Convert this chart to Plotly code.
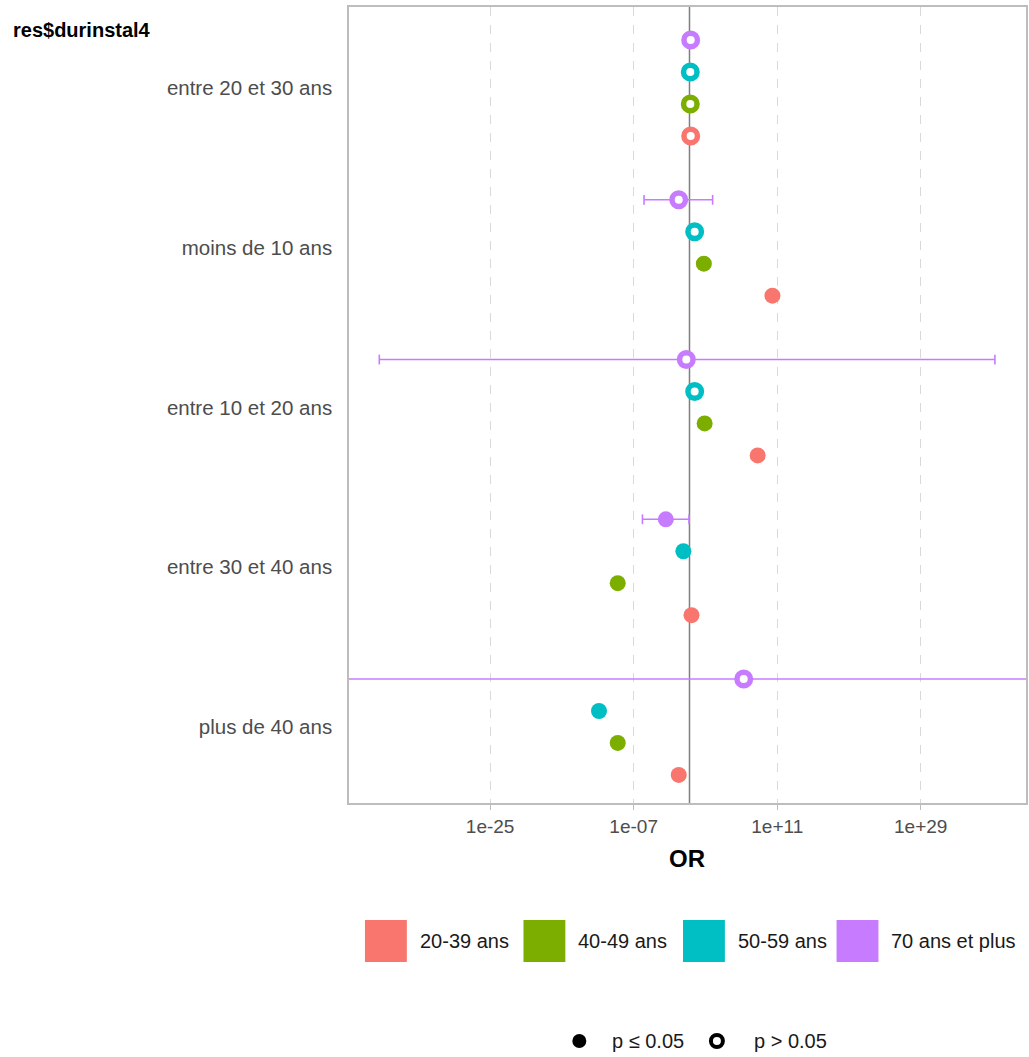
import plotly.graph_objects as go

# ---------------- data ----------------
categories = ["entre 20 et 30 ans", "moins de 10 ans", "entre 10 et 20 ans",
              "entre 30 et 40 ans", "plus de 40 ans"]
series_names = ["20-39 ans", "40-49 ans", "50-59 ans", "70 ans et plus"]
colors = ["#F8766D", "#7CAE00", "#00BFC4", "#C77CFF"]

# log10(OR) estimates per series, in category order
or_20_39 = [0.15, 10.4, 8.55, 0.25, -1.35]
or_40_49 = [0.1, 1.8, 1.9, -9.0, -9.0]
or_50_59 = [0.1, 0.65, 0.65, -0.77, -11.35]
or_70p = [0.15, -1.35, -0.4, -2.97, 6.8]

# log10 confidence limits
lo_20_39 = [-0.2, 10.1, 8.25, 0.0, -1.6]
hi_20_39 = [0.45, 10.7, 8.85, 0.5, -1.1]
lo_40_49 = [-0.2, 1.5, 1.6, -9.3, -9.3]
hi_40_49 = [0.4, 2.1, 2.2, -8.7, -8.7]
lo_50_59 = [-0.2, 0.3, 0.3, -1.0, -11.6]
hi_50_59 = [0.4, 1.0, 1.0, -0.5, -11.1]
lo_70p = [-0.2, -5.7, -38.9, -5.9, -60.0]
hi_70p = [0.5, 2.9, 38.3, -0.06, 60.0]

# p <= 0.05 ?
sig_20_39 = [False, True, True, True, True]
sig_40_49 = [False, True, True, True, True]
sig_50_59 = [False, False, False, True, True]
sig_70p = [False, False, False, True, False]

estimates = [or_20_39, or_40_49, or_50_59, or_70p]
lows = [lo_20_39, lo_40_49, lo_50_59, lo_70p]
highs = [hi_20_39, hi_40_49, hi_50_59, hi_70p]
sigs = [sig_20_39, sig_40_49, sig_50_59, sig_70p]

x_ticks = [1e-25, 1e-7, 1e11, 1e29]
x_tick_text = ["1e-25", "1e-07", "1e+11", "1e+29"]

# ---------------- figure ----------------
W, H = 1029, 1057
ML, MR, MT, MB = 349, 1, 7, 254
PW = W - ML - MR
PH = H - MT - MB


def px(xp):
    return (xp - ML) / PW


def py(yp):
    return (H - MB - yp) / PH


dodge = [0.3, 0.1, -0.1, -0.3]
FONT = "Liberation Sans, Arial, sans-serif"

fig = go.Figure()

# error bars (all below points)
for s in range(4):
    xs, ys = [], []
    cx, cy = [], []
    for i in range(len(categories)):
        y = i + dodge[s]
        lo = 10 ** lows[s][i]
        hi = 10 ** highs[s][i]
        xs += [lo, hi, None]
        ys += [y, y, None]
        cx += [lo, hi]
        cy += [y, y]
    fig.add_trace(go.Scatter(x=xs, y=ys, mode="lines",
                             line=dict(color=colors[s], width=1.6),
                             showlegend=False, hoverinfo="skip"))
    fig.add_trace(go.Scatter(x=cx, y=cy, mode="markers",
                             marker=dict(symbol="line-ns", size=7, opacity=1,
                                         line=dict(color=colors[s], width=1.6)),
                             showlegend=False, hoverinfo="skip"))

# points
for s in range(4):
    xs = [10 ** v for v in estimates[s]]
    ys = [i + dodge[s] for i in range(len(categories))]
    fill = [colors[s] if g else "white" for g in sigs[s]]
    lw = [0 if g else 5.5 for g in sigs[s]]
    sz = [16 if g else 13.5 for g in sigs[s]]
    fig.add_trace(go.Scatter(x=xs, y=ys, mode="markers", name=series_names[s],
                             marker=dict(symbol="circle", size=sz, color=fill, opacity=1,
                                         line=dict(color=colors[s], width=lw)),
                             showlegend=False))

shapes = []
# reference line at OR = 1
shapes.append(dict(type="line", xref="x", yref="paper", x0=1, x1=1, y0=0, y1=1,
                   line=dict(color="#7f7f7f", width=1.5), layer="below"))

annotations = []
# title of y variable
annotations.append(dict(text="<b>res$durinstal4</b>", xref="paper", yref="paper",
                        x=px(10), y=py(30), xanchor="left", yanchor="middle",
                        showarrow=False, font=dict(family=FONT, size=20, color="black")))
# axis title
annotations.append(dict(text="<b>OR</b>", xref="paper", yref="paper",
                        x=px(688), y=py(858), xanchor="center", yanchor="middle",
                        showarrow=False, font=dict(family=FONT, size=24, color="black")))

# colour legend
key_left = [365, 524, 684, 838]
for s in range(4):
    x0 = key_left[s]
    shapes.append(dict(type="rect", xref="paper", yref="paper",
                       x0=px(x0), x1=px(x0 + 42), y0=py(920), y1=py(962),
                       fillcolor=colors[s], line=dict(width=0)))
    annotations.append(dict(text=series_names[s], xref="paper", yref="paper",
                            x=px(x0 + 53), y=py(941), xanchor="left", yanchor="middle",
                            showarrow=False, font=dict(family=FONT, size=20, color="#1a1a1a")))

# shape legend
shapes.append(dict(type="circle", xref="paper", yref="paper",
                   x0=px(573), x1=px(587), y0=py(1034), y1=py(1048),
                   fillcolor="black", line=dict(width=0)))
shapes.append(dict(type="circle", xref="paper", yref="paper",
                   x0=px(712), x1=px(724), y0=py(1035), y1=py(1047),
                   fillcolor="white", line=dict(color="black", width=4)))
annotations.append(dict(text="p ≤ 0.05", xref="paper", yref="paper",
                        x=px(611), y=py(1041), xanchor="left", yanchor="middle",
                        showarrow=False, font=dict(family=FONT, size=20, color="#1a1a1a")))
annotations.append(dict(text="p > 0.05", xref="paper", yref="paper",
                        x=px(753), y=py(1041), xanchor="left", yanchor="middle",
                        showarrow=False, font=dict(family=FONT, size=20, color="#1a1a1a")))

fig.update_layout(
    width=W, height=H,
    margin=dict(l=ML, r=MR, t=MT, b=MB, pad=0),
    paper_bgcolor="white", plot_bgcolor="white",
    font=dict(family=FONT),
    showlegend=False,
    shapes=shapes,
    annotations=annotations,
    xaxis=dict(type="log", range=[-42.7, 42.2],
               tickmode="array", tickvals=x_ticks, ticktext=x_tick_text,
               showgrid=True, gridcolor="#d9d9d9", griddash="dash", gridwidth=1,
               zeroline=False, showline=True, mirror=True,
               linecolor="#bdbdbd", linewidth=1.5,
               ticks="outside", ticklen=5, tickcolor="#bdbdbd", tickwidth=1,
               tickfont=dict(family=FONT, size=19, color="#4d4d4d")),
    yaxis=dict(range=[4.476, -0.507],
               tickmode="array", tickvals=list(range(len(categories))), ticktext=categories,
               showgrid=False, zeroline=False, showline=True, mirror=True,
               linecolor="#bdbdbd", linewidth=1.5, ticks="",
               ticklabelstandoff=11,
               tickfont=dict(family=FONT, size=20.5, color="#4d4d4d")),
)

fig.write_html("out.html", config={"displayModeBar": False},
               post_script="document.body.style.margin='0';document.body.style.overflow='hidden';")
